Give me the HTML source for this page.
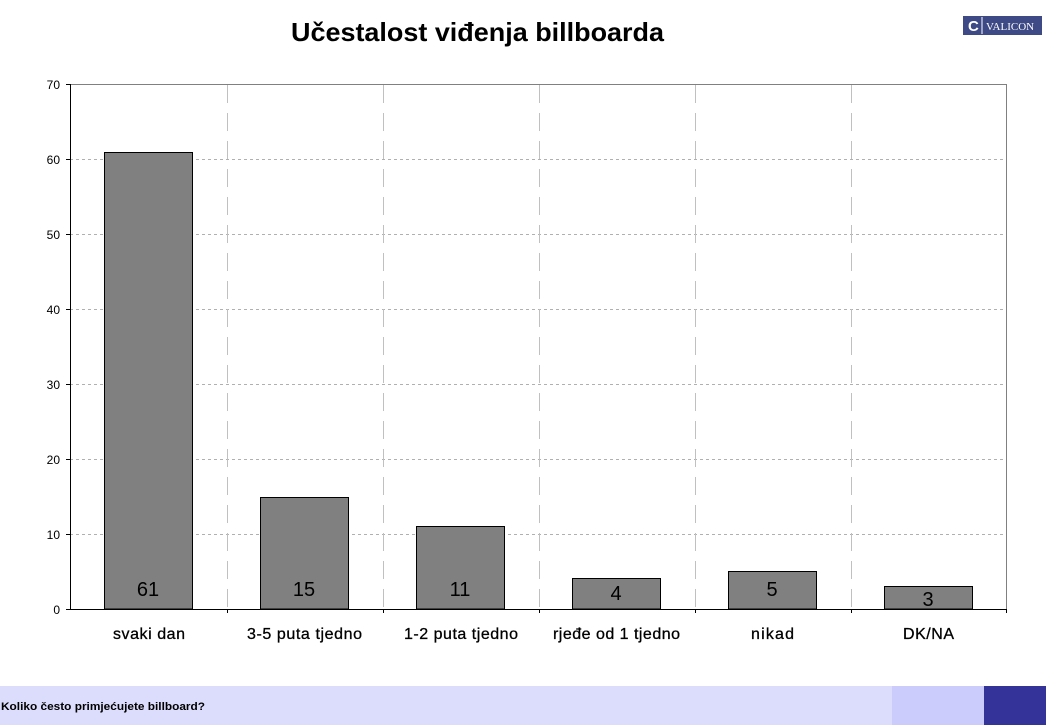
<!DOCTYPE html>
<html><head><meta charset="utf-8"><style>
html,body{margin:0;padding:0;background:#fff;}
body{width:1046px;height:725px;overflow:hidden;position:relative;font-family:"Liberation Sans",Arial,sans-serif;}
</style></head><body>
<svg width="1046" height="725" xmlns="http://www.w3.org/2000/svg" style="position:absolute;left:0;top:0">
<text x="291" y="41" font-family="Liberation Sans, sans-serif" font-size="26" font-weight="bold" fill="#000" textLength="373" lengthAdjust="spacingAndGlyphs">Učestalost viđenja billboarda</text>
<rect x="963" y="16" width="79" height="19" fill="#3d4a85"/>
<text x="968" y="31" font-family="Liberation Sans, sans-serif" font-size="15" font-weight="bold" fill="#fff">C</text>
<line x1="982" y1="17" x2="982" y2="34" stroke="#fff" stroke-width="1"/>
<text x="986" y="30" font-family="Liberation Serif, serif" font-size="11" fill="#fff">VALICON</text>
<g stroke="#b0b0b0" stroke-width="1" stroke-dasharray="3,3">
<line x1="70" y1="159.5" x2="1007" y2="159.5"/>
<line x1="70" y1="234.5" x2="1007" y2="234.5"/>
<line x1="70" y1="309.5" x2="1007" y2="309.5"/>
<line x1="70" y1="384.5" x2="1007" y2="384.5"/>
<line x1="70" y1="459.5" x2="1007" y2="459.5"/>
<line x1="70" y1="534.5" x2="1007" y2="534.5"/>
</g>
<g stroke="#c0c0c0" stroke-width="1" stroke-dasharray="18,10">
<line x1="227.5" y1="85" x2="227.5" y2="609"/>
<line x1="383.5" y1="85" x2="383.5" y2="609"/>
<line x1="539.5" y1="85" x2="539.5" y2="609"/>
<line x1="695.5" y1="85" x2="695.5" y2="609"/>
<line x1="851.5" y1="85" x2="851.5" y2="609"/>
</g>
<line x1="70" y1="84.5" x2="1007" y2="84.5" stroke="#808080"/>
<line x1="1006.5" y1="84" x2="1006.5" y2="609" stroke="#808080"/>
<g fill="#808080" stroke="#000" stroke-width="1">
<rect x="104.5" y="152.5" width="88" height="456.5"/>
<rect x="260.5" y="497.5" width="88" height="111.5"/>
<rect x="416.5" y="526.5" width="88" height="82.5"/>
<rect x="572.5" y="578.5" width="88" height="30.5"/>
<rect x="728.5" y="571.5" width="88" height="37.5"/>
<rect x="884.5" y="586.5" width="88" height="22.5"/>
</g>
<line x1="70.5" y1="84" x2="70.5" y2="609" stroke="#000"/>
<line x1="66" y1="609.5" x2="1007" y2="609.5" stroke="#000"/>
<g stroke="#000">
<line x1="66" y1="84.5" x2="70" y2="84.5"/><line x1="66" y1="159.5" x2="70" y2="159.5"/>
<line x1="66" y1="234.5" x2="70" y2="234.5"/><line x1="66" y1="309.5" x2="70" y2="309.5"/>
<line x1="66" y1="384.5" x2="70" y2="384.5"/><line x1="66" y1="459.5" x2="70" y2="459.5"/>
<line x1="66" y1="534.5" x2="70" y2="534.5"/>
<line x1="227.5" y1="609" x2="227.5" y2="613"/><line x1="383.5" y1="609" x2="383.5" y2="613"/>
<line x1="539.5" y1="609" x2="539.5" y2="613"/><line x1="695.5" y1="609" x2="695.5" y2="613"/>
<line x1="851.5" y1="609" x2="851.5" y2="613"/><line x1="1006.5" y1="609" x2="1006.5" y2="613"/>
</g>
<g font-family="Liberation Sans, sans-serif" font-size="12" text-anchor="end" fill="#000">
<text x="60" y="89">70</text><text x="60" y="164">60</text><text x="60" y="239">50</text>
<text x="60" y="314">40</text><text x="60" y="389">30</text><text x="60" y="464">20</text>
<text x="60" y="539">10</text><text x="60" y="614">0</text>
</g>
<g font-family="Liberation Sans, sans-serif" font-size="20" text-anchor="middle" fill="#000">
<text x="148" y="596">61</text><text x="304" y="596">15</text><text x="460" y="596">11</text>
<text x="616" y="600">4</text><text x="772" y="596">5</text><text x="928" y="606">3</text>
</g>
<g font-family="Liberation Sans, sans-serif" font-size="16" fill="#000" stroke="#000" stroke-width="0.3" lengthAdjust="spacingAndGlyphs">
<text x="113" y="639" textLength="72">svaki dan</text>
<text x="247" y="639" textLength="115">3-5 puta tjedno</text>
<text x="404" y="639" textLength="114">1-2 puta tjedno</text>
<text x="553" y="639" textLength="127">rjeđe od 1 tjedno</text>
<text x="751" y="639" textLength="43">nikad</text>
<text x="903" y="639" textLength="51">DK/NA</text>
</g>
<rect x="0" y="686" width="892" height="39" fill="#dcdcfc"/>
<rect x="892" y="686" width="92" height="39" fill="#ccccfc"/>
<rect x="984" y="686" width="62" height="39" fill="#333399"/>
<text x="1" y="710" font-family="Liberation Sans, sans-serif" font-size="11" font-weight="bold" fill="#000" textLength="204" lengthAdjust="spacingAndGlyphs">Koliko često primjećujete billboard?</text>
</svg>
</body></html>
